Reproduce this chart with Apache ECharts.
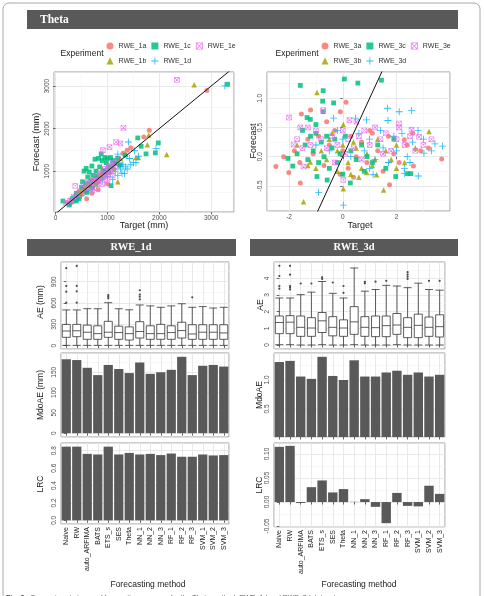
<!DOCTYPE html>
<html>
<head>
<meta charset="utf-8">
<script src="https://cdn.jsdelivr.net/npm/echarts@6/dist/echarts.min.js"></script>
<style>
html,body{margin:0;padding:0;background:#fff;}
#main{width:484px;height:596px;}
</style>
</head>
<body>
<div id="main"></div>
<script>
// ---- data ----
var methods = ['Naive','RW','auto_ARFIMA','BATS','ETS_s','SES','Theta','NN_1','NN_2','NN_3','RF_1','RF_2','RF_3','SVM_1','SVM_2','SVM_3'];

// Theta scatter, RWE_1 experiments (target mm, forecast mm)
var rwe1a = [[220,260],[260,240],[300,330],[340,300],[380,420],[420,380],[450,520],[500,450],[530,600],[560,520],[600,640],[620,560],[650,700],[680,620],[700,780],[730,680],[760,820],[790,720],[820,880],[840,760],[870,940],[900,830],[930,1000],[960,880],[1000,1050],[1040,960],[1080,1150],[1120,1040],[1180,1250],[1230,1120],[1300,1420],[1380,1490],[1450,1550],[1700,1800],[1808,1959],[2917,2895],[700,480],[600,350],[820,560],[1000,700]];
var rwe1b = [[300,280],[450,480],[560,600],[650,660],[720,760],[800,820],[880,900],[950,980],[1020,1060],[1100,1120],[1150,1200],[1200,750],[1250,1300],[1350,1400],[1550,1320],[1597,1320],[1770,1620],[1795,1850],[2142,1390],[2673,3029],[500,560],[620,720],[780,700],[900,1050]];
var rwe1c = [[142,298],[262,204],[330,360],[400,480],[450,350],[500,620],[520,750],[550,1000],[580,700],[590,1063],[620,860],[650,980],[680,760],[700,1120],[720,900],[760,1280],[780,1000],[800,880],[830,1300],[850,1100],[880,1405],[900,1250],[930,1000],[950,1320],[980,1200],[1000,1300],[1020,1100],[1060,1320],[1100,1250],[1150,1180],[1200,1300],[1250,1150],[1340,1375],[1584,1780],[1650,1585],[1744,1405],[1924,1428],[1981,1663],[3315,3043],[700,600],[600,500],[400,300],[1070,660]];
var rwe1d = [[300,250],[400,350],[500,420],[600,550],[700,620],[800,700],[900,800],[1000,880],[1050,950],[1100,800],[1150,1000],[1200,900],[1250,1050],[1280,950],[1300,1150],[1327,946],[1350,1100],[1380,1050],[1404,1686],[1425,1297],[1450,1150],[1500,1200],[1520,1480],[1550,1200],[1600,1350],[1936,1531],[3263,3005],[1200,1400],[1100,1150],[950,1000]];
var rwe1e = [[200,250],[280,310],[350,400],[380,650],[420,460],[480,520],[540,700],[580,600],[620,720],[660,650],[700,800],[740,720],[780,880],[820,780],[860,950],[900,850],[940,1050],[980,920],[1020,1100],[1040,1569],[1060,1000],[1100,1200],[1140,1100],[1168,1686],[912,1490],[1200,1300],[1250,1650],[1308,2022],[2340,3146],[800,600],[900,700],[1000,800],[1100,900],[700,540]];

// Theta scatter, RWE_3 experiments (target, forecast)
var rwe3a = [[-2.49,-0.17],[-2.01,-0.27],[-1.58,-0.45],[-1.54,0.73],[-1.2,0.8],[-0.09,0.77],[0.12,0.93],[3.68,-0.04],[3.19,0.15],[2.29,0.29],[1.74,-0.48],[2.63,-0.16],[-1.8,0.1],[-1.6,-0.1],[-1.3,0.3],[-1.1,0.05],[-0.9,0.35],[-0.7,-0.15],[-0.5,0.2],[-0.3,0.45],[-0.1,-0.3],[0.0,0.1],[0.2,-0.2],[0.3,0.35],[0.5,0.0],[0.7,0.25],[0.9,-0.1],[1.1,0.4],[1.3,0.1],[1.5,-0.25],[1.7,0.35],[1.9,0.05],[2.1,-0.1],[2.4,0.2],[2.6,0.4],[2.9,0.1],[-0.6,0.6],[0.4,-0.35],[1.0,0.45],[-2.2,0.0]];
var rwe3b = [[-0.96,1.10],[-1.46,-0.77],[0.02,-0.55],[1.52,-0.57],[3.21,0.43],[0.02,0.55],[1.26,-0.31],[0.89,-0.27],[-1.21,-0.09],[-1.3,-0.15],[-1.0,-0.2],[-0.8,0.1],[-0.6,-0.05],[-0.4,0.4],[-0.2,-0.25],[0.0,0.2],[0.2,-0.1],[0.3,-0.3],[0.5,0.15],[0.7,-0.2],[0.9,0.05],[1.1,-0.15],[1.3,0.3],[1.6,0.1],[1.8,-0.05],[2.0,0.2],[2.3,-0.1],[2.7,0.15],[-1.7,0.2],[-0.5,0.3],[0.4,0.25],[1.2,-0.05],[-0.2,0.1],[0.6,-0.35],[2.0,-0.2]];
var rwe3c = [[-1.58,1.22],[0.06,1.33],[0.56,1.26],[1.44,1.31],[-0.73,1.13],[-0.75,0.95],[-0.34,0.92],[-1.33,0.67],[-1.21,0.64],[-0.73,0.77],[-2.04,-0.03],[-0.96,-0.34],[0.28,-0.45],[1.97,-0.34],[2.41,-0.29],[2.53,-0.29],[-1.86,-0.16],[-0.58,-0.4],[-1.5,0.45],[-1.4,0.2],[-1.3,-0.05],[-1.2,0.35],[-1.1,0.1],[-1.0,0.4],[-0.9,-0.1],[-0.8,0.25],[-0.7,0.0],[-0.6,0.35],[-0.5,-0.2],[-0.4,0.15],[-0.3,0.3],[-0.2,-0.1],[-0.1,0.05],[0.1,0.35],[0.3,0.1],[0.5,-0.05],[0.7,0.2],[0.9,0.0],[1.1,-0.1],[1.3,0.2],[1.6,-0.2],[1.9,0.3],[-1.7,0.05],[-1.0,0.55],[0.0,-0.3],[0.8,-0.25]];
var rwe3d = [[1.66,0.83],[2.1,0.77],[2.56,0.79],[1.68,0.62],[-0.34,0.66],[0.47,0.66],[0.88,0.63],[3.71,0.18],[3.43,0.22],[3.02,0.06],[2.81,-0.33],[2.29,-0.29],[-0.9,-0.61],[0.02,-0.83],[1.13,-0.31],[2.29,-0.2],[-1.0,0.2],[-0.5,0.1],[0.0,0.3],[0.3,0.0],[0.6,0.4],[0.8,0.1],[1.0,0.3],[1.2,-0.05],[1.4,0.45],[1.5,0.15],[1.7,-0.1],[1.9,0.35],[2.0,0.1],[2.2,0.4],[2.4,0.0],[2.6,0.25],[2.8,0.45],[3.0,0.3],[3.3,0.1],[1.0,-0.2],[2.5,-0.1],[-0.2,0.45]];
var rwe3e = [[-2.0,0.67],[-1.58,0.5],[-0.73,0.8],[0.25,0.63],[0.51,0.6],[2.09,0.57],[2.09,0.5],[2.56,0.46],[3.3,0.3],[2.84,0.34],[-1.83,0.21],[0.02,-0.4],[-1.46,-0.17],[-1.7,0.3],[-1.5,0.15],[-1.2,0.2],[-1.0,0.45],[-0.8,0.3],[-0.6,0.15],[-0.4,0.35],[-0.2,0.2],[0.0,0.45],[0.2,0.3],[0.4,0.15],[0.6,0.35],[0.8,0.45],[1.0,0.2],[1.2,0.5],[1.4,0.3],[1.6,0.4],[1.8,0.1],[2.0,0.3],[2.3,0.2],[2.5,0.35],[2.7,0.1],[3.0,0.2],[-0.3,-0.1],[0.7,-0.05],[1.5,0.05],[-1.3,0.5],[0.1,0.05]];

// RWE_1d : AE boxes [min, Q1, median, Q3, max], outliers [method index, AE]
var ae1dBox = [[5,118,207,300,503],[5,127,210,300,503],[5,90,190,290,521],[5,90,170,280,520],[5,118,190,343,605],[5,90,185,275,520],[5,80,170,265,505],[5,108,200,338,573],[5,90,170,280,560],[5,90,170,300,540],[5,90,185,280,560],[5,108,213,330,590],[5,90,165,295,540],[5,90,190,295,550],[5,90,190,295,530],[5,90,180,295,540]];
var ae1dOut = [[0,1090],[0,840],[0,760],[0,605],[1,1122],[1,840],[1,765],[1,605],[4,713],[4,690],[4,667],[7,780],[7,720],[7,690],[7,653],[12,680]];
var mdo1d = [182,180,161,143,168,158,148,174,146,150,156,188,143,166,168,164];
var lrc1d = [0.847,0.847,0.764,0.757,0.847,0.757,0.775,0.757,0.764,0.75,0.768,0.731,0.731,0.757,0.746,0.75];

// RWE_3d
var ae3dBox = [[0.02,0.68,1.35,1.74,2.82],[0.02,0.68,1.37,1.76,2.82],[0,0.52,1.06,1.74,3.02],[0,0.52,1.02,1.64,3.17],[0.02,0.75,1.45,1.95,3.81],[0,0.55,1.06,1.7,3.1],[0,0.52,1.02,1.51,2.82],[0.02,0.64,1.39,2.3,4.62],[0,0.52,1.06,1.7,3.23],[0,0.5,1.04,1.74,3.33],[0,0.5,1.16,1.74,3.58],[0.02,0.64,1.2,1.89,3.54],[0,0.44,1.06,1.64,3.44],[0,0.44,1.18,1.85,3.71],[0,0.52,1.06,1.68,3.33],[0,0.48,1.1,1.81,3.29]];
var ae3dOut = [[0,4.75],[0,4.14],[0,3.54],[0,3.38],[1,4.75],[1,4.22],[1,3.54],[1,3.44],[1,3.33],[2,3.69],[3,3.69],[4,4.06],[4,3.96],[5,3.75],[6,3.54],[6,3.13],[8,3.79],[8,3.7],[9,3.8],[10,3.85],[12,4.37],[12,4.22],[12,4.09],[12,3.96],[14,3.85],[15,3.85]];
var mdo3d = [1.31,1.33,1.06,1.02,1.40,1.07,1.0,1.34,1.06,1.06,1.13,1.16,1.09,1.13,1.06,1.09];
var lrc3d = [0.115,0.117,-0.002,0.031,0.045,0.020,0.027,0.0005,0.006,-0.010,-0.044,0.019,-0.008,-0.009,0.034,0.017];

// ---- style ----
var FONT = '"Liberation Sans", Arial, sans-serif';
var SERIF = '"Liberation Serif", "DejaVu Serif", serif';
var cols = ['#F8766D','#A3A500','#00BF7D','#00B0F6','#E76BF3'];
var plusPath = 'path://M4.4,0h1.2v4.4h4.4v1.2h-4.4v4.4h-1.2v-4.4h-4.4v-1.2h4.4z';
var boxXPath = 'path://M0,0H10V10H0Z M1.2,1.2V8.8H8.8V1.2Z M1.2,0.4L9.6,8.8L8.8,9.6L0.4,1.2Z M8.8,0.4L9.6,1.2L1.2,9.6L0.4,8.8Z';
var shapes = ['circle','triangle','rect',plusPath,boxXPath];
var sizes = [5,5.5,4.8,7,5.5];

function fmt(d){ return function(v){ return v.toFixed(d); }; }

function yVal(g, min, max, split, digits){
	return {
		type:'value', gridIndex:g, min:min, max:max, splitNumber:split,
		axisLine:{show:false},
		axisTick:{show:true, length:2.5, lineStyle:{color:'#444', width:0.8}},
		axisLabel:{rotate:90, fontSize:6.5, color:'#4d4d4d', margin:3, fontFamily:FONT,
			showMinLabel:false, showMaxLabel:false, formatter:fmt(digits)},
		splitLine:{show:true, lineStyle:{color:'#e3e3e3', width:0.8}},
		minorTick:{show:false, splitNumber:2},
		minorSplitLine:{show:true, lineStyle:{color:'#f3f3f3', width:0.6}}
	};
}
function xVal(g, min, max, split){
	var a = yVal(g, min, max, split, 0);
	a.axisLabel.rotate = 0;
	return a;
}
function xCat(g, showLabel){
	return {
		type:'category', gridIndex:g, data:methods, boundaryGap:true,
		axisLine:{show:false},
		axisTick:{show:true, alignWithLabel:true, length:2.5, lineStyle:{color:'#444', width:0.8}},
		axisLabel:{show:showLabel, rotate:90, interval:0, fontSize:7, color:'#222', margin:3, fontFamily:FONT},
		splitLine:{show:false}
	};
}
// hidden axis, only for the vertical grid lines at category centres
function xLines(g){
	return {
		type:'value', gridIndex:g, min:-0.5, max:15.5, splitNumber:16, position:'top',
		axisLine:{show:false}, axisTick:{show:false}, axisLabel:{show:false},
		splitLine:{show:true, lineStyle:{color:'#e3e3e3', width:0.8}}
	};
}

var gridBase = {show:true, borderColor:'#9a9a9a', borderWidth:1, backgroundColor:'#fff', containLabel:false, outerBoundsMode:'none'};
function grid(l,t,w,h){ return Object.assign({left:l, top:t, width:w, height:h}, gridBase); }

var series = [];
var names1 = ['RWE_1a','RWE_1b','RWE_1c','RWE_1d','RWE_1e'];
var names3 = ['RWE_3a','RWE_3b','RWE_3c','RWE_3d','RWE_3e'];
var data1 = [rwe1a,rwe1b,rwe1c,rwe1d,rwe1e];
var data3 = [rwe3a,rwe3b,rwe3c,rwe3d,rwe3e];
for(var i = 0; i < 5; i++){
	series.push({name:names1[i], type:'scatter', xAxisIndex:0, yAxisIndex:0, data:data1[i],
		symbol:shapes[i], symbolSize:sizes[i], itemStyle:{color:cols[i], opacity:0.85}, silent:true});
}
series.push({type:'line', xAxisIndex:0, yAxisIndex:0, data:[[-100,-100],[4000,4000]], symbol:'none',
	lineStyle:{color:'#111', width:1}, z:5, silent:true});
for(var i = 0; i < 5; i++){
	series.push({name:names3[i], type:'scatter', xAxisIndex:1, yAxisIndex:1, data:data3[i],
		symbol:shapes[i], symbolSize:sizes[i], itemStyle:{color:cols[i], opacity:0.85}, silent:true});
}
series.push({type:'line', xAxisIndex:1, yAxisIndex:1, data:[[-4,-4],[5,5]], symbol:'none',
	lineStyle:{color:'#111', width:1}, z:5, silent:true});

var boxStyle = {color:'#fff', borderColor:'#333', borderWidth:0.8};
var outStyle = {color:'#222'};
var barStyle = {color:'#595959'};
series.push({type:'boxplot', xAxisIndex:2, yAxisIndex:2, data:ae1dBox, boxWidth:[8,8], itemStyle:boxStyle, silent:true});
series.push({type:'scatter', xAxisIndex:2, yAxisIndex:2, data:ae1dOut, symbolSize:2.2, itemStyle:outStyle, silent:true});
series.push({type:'bar', xAxisIndex:3, yAxisIndex:3, data:mdo1d, barCategoryGap:'12%', itemStyle:barStyle, silent:true});
series.push({type:'bar', xAxisIndex:4, yAxisIndex:4, data:lrc1d, barCategoryGap:'12%', itemStyle:barStyle, silent:true});
series.push({type:'boxplot', xAxisIndex:5, yAxisIndex:5, data:ae3dBox, boxWidth:[8,8], itemStyle:boxStyle, silent:true});
series.push({type:'scatter', xAxisIndex:5, yAxisIndex:5, data:ae3dOut, symbolSize:2.2, itemStyle:outStyle, silent:true});
series.push({type:'bar', xAxisIndex:6, yAxisIndex:6, data:mdo3d, barCategoryGap:'12%', itemStyle:barStyle, silent:true});
series.push({type:'bar', xAxisIndex:7, yAxisIndex:7, data:lrc3d, barCategoryGap:'12%', itemStyle:barStyle, silent:true});

function legend(names, l, t){
	return {data:names, left:l, top:t, orient:'horizontal', padding:0, itemGap:5,
		itemWidth:7, itemHeight:7, selectedMode:false,
		textStyle:{fontSize:7, color:'#333', fontFamily:FONT}};
}

function txt(t, x, y, size, rot, extra){
	var el = {type:'text', x:x, y:y, rotation:rot || 0, silent:true,
		style:Object.assign({text:t, fontSize:size, fontFamily:FONT, fill:'#1a1a1a',
			align:'center', verticalAlign:'middle', textAlign:'center', textVerticalAlign:'middle'}, extra || {})};
	return el;
}
var R = Math.PI / 2;
var graphics = [
	{type:'rect', shape:{x:3, y:3, width:477, height:610, r:6}, style:{fill:'none', stroke:'#a8a8a8', lineWidth:1}, silent:true},
	{type:'rect', shape:{x:27, y:10, width:431, height:19}, style:{fill:'#595959'}, silent:true},
	txt('Theta', 40, 20, 11.5, 0, {fill:'#fff', fontWeight:'bold', fontFamily:SERIF, align:'left', textAlign:'left'}),
	{type:'rect', shape:{x:27, y:239, width:209, height:17}, style:{fill:'#595959'}, silent:true},
	txt('RWE_1d', 131, 247.5, 10.5, 0, {fill:'#fff', fontWeight:'bold', fontFamily:SERIF}),
	{type:'rect', shape:{x:250, y:239, width:208, height:17}, style:{fill:'#595959'}, silent:true},
	txt('RWE_3d', 354, 247.5, 10.5, 0, {fill:'#fff', fontWeight:'bold', fontFamily:SERIF}),
	txt('Experiment', 82, 54, 8.5),
	txt('Experiment', 297, 54, 8.5),
	txt('Forecast (mm)', 37, 142, 9, R),
	txt('Target (mm)', 144, 226, 9),
	txt('Forecast', 254, 141, 9, R),
	txt('Target', 360, 226, 9),
	txt('AE (mm)', 41, 302, 8.5, R),
	txt('MdoAE (mm)', 41, 395, 8.5, R),
	txt('LRC', 41, 484, 8.5, R),
	txt('AE', 261, 305, 8.5, R),
	txt('MdoAE', 260, 395, 8.5, R),
	txt('LRC', 260, 485, 8.5, R),
	txt('Forecasting method', 148, 585, 8.5),
	txt('Forecasting method', 359, 585, 8.5),
	txt('Fig. 3', 6, 595, 7, 0, {align:'left', textAlign:'left', verticalAlign:'top', textVerticalAlign:'top', fontWeight:'bold', fill:'#444'}),
	txt('Comparison in terms of forecasting accuracy for the Theta method, RWE_1d and RWE_3d datasets', 30, 595, 7, 0,
		{align:'left', textAlign:'left', verticalAlign:'top', textVerticalAlign:'top', fill:'#555'})
];

var option = {
	animation:false,
	backgroundColor:'#fff',
	textStyle:{fontFamily:FONT},
	grid:[
		grid(54,72,180,140),
		grid(267,72,183,139),
		grid(61,262,168,87),
		grid(61,353,168,84),
		grid(61,443,168,81),
		grid(274,262,171,87),
		grid(274,353,171,84),
		grid(274,443,171,84)
	],
	xAxis:[
		xVal(0,-30,3440,3),
		xVal(1,-2.82,3.99,3),
		xCat(2,false), xCat(3,false), xCat(4,true),
		xCat(5,false), xCat(6,false), xCat(7,true),
		xLines(2), xLines(3), xLines(4), xLines(5), xLines(6), xLines(7)
	],
	yAxis:[
		yVal(0,40,3330,3,0),
		yVal(1,-0.93,1.45,5,1),
		yVal(2,-46,1177,4,0),
		yVal(3,-9.4,197.4,4,0),
		yVal(4,-0.042,0.889,5,1),
		yVal(5,-0.24,4.98,5,0),
		yVal(6,0.017,1.466,3,1),
		yVal(7,-0.052,0.123,4,2)
	],
	legend:[
		legend(['RWE_1a','RWE_1c','RWE_1e'],106.5,42.5),
		legend(['RWE_1b','RWE_1d'],106.5,57.5),
		legend(['RWE_3a','RWE_3c','RWE_3e'],321.5,42.5),
		legend(['RWE_3b','RWE_3d'],321.5,57.5)
	],
	graphic:graphics,
	series:series
};

var myChart = echarts.init(document.getElementById('main'));
myChart.setOption(option);
</script>
</body>
</html>
